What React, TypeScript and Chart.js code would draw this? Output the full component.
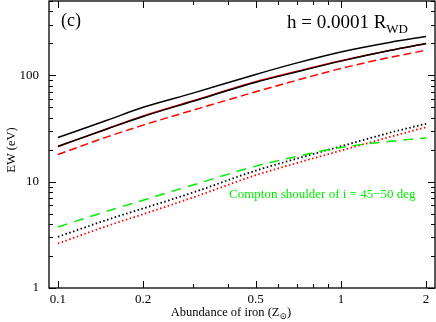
import React, { useEffect, useRef } from 'react';
import { Chart, registerables } from 'chart.js';
Chart.register(...registerables);

const abundance = [0.1, 0.15, 0.2, 0.3, 0.5, 0.7, 1, 1.5, 2];
const totalUpper = [26, 38, 50, 68, 102, 131, 166, 205, 232];
const totalLower = [21.5, 31.5, 41, 57, 86, 108, 136, 172, 199];
const lineRed = [21.3, 31.6, 41.5, 57.6, 87, 109, 137, 172, 199];
const redDashed = [18, 26.5, 34, 47, 70, 90, 116, 148, 172];
const compton = [3.75, 5.3, 6.7, 9.3, 14, 17.3, 21, 24, 25.8];
const blackDotted = [3.03, 4.4, 5.6, 7.9, 12.7, 16.5, 21.5, 29, 35];
const redDotted = [2.62, 3.85, 4.95, 7.1, 11.5, 15, 19.6, 26.5, 32.5];

const xTicks = [0.1, 0.2, 0.3, 0.4, 0.5, 0.6, 0.7, 0.8, 0.9, 1, 2];
const xLabelTicks = [0.1, 0.2, 0.5, 1, 2];
const yTicks = [1, 2, 3, 4, 5, 6, 7, 8, 9, 10, 20, 30, 40, 50, 60, 70, 80, 90, 100, 200, 300, 400, 500];
const yLabelTicks = [1, 10, 100];

const FONT = '"Liberation Serif", "DejaVu Serif", serif';

const pts = (ys: number[]) => abundance.map((x, i) => ({ x, y: ys[i] }));

const decorPlugin = {
  id: 'decor',
  afterDraw(chart: any) {
    const { ctx, chartArea: a, scales } = chart;
    const xs = scales.x;
    const ys = scales.y;
    ctx.save();
    ctx.strokeStyle = '#000';
    ctx.lineWidth = 1.3;
    ctx.strokeRect(a.left, a.top, a.right - a.left, a.bottom - a.top);
    ctx.lineWidth = 1;
    ctx.beginPath();
    xTicks.forEach((v) => {
      const px = Math.round(xs.getPixelForValue(v)) + 0.5;
      const len = xLabelTicks.includes(v) ? 7 : 4;
      ctx.moveTo(px, a.bottom);
      ctx.lineTo(px, a.bottom - len);
      ctx.moveTo(px, a.top);
      ctx.lineTo(px, a.top + len);
    });
    yTicks.forEach((v) => {
      const py = Math.round(ys.getPixelForValue(v)) + 0.5;
      const len = yLabelTicks.includes(v) ? 7 : 4;
      ctx.moveTo(a.left, py);
      ctx.lineTo(a.left + len, py);
      ctx.moveTo(a.right, py);
      ctx.lineTo(a.right - len, py);
    });
    ctx.stroke();

    ctx.fillStyle = '#000';
    ctx.textBaseline = 'alphabetic';
    ctx.textAlign = 'left';
    ctx.font = `18px ${FONT}`;
    ctx.fillText('(c)', 61, 26);

    ctx.font = `19px ${FONT}`;
    const main = 'h = 0.0001 R';
    const mw = ctx.measureText(main).width;
    ctx.font = `13px ${FONT}`;
    const sw = ctx.measureText('WD').width;
    const hx = 408 - mw - sw;
    ctx.font = `19px ${FONT}`;
    ctx.fillText(main, hx, 28);
    ctx.font = `13px ${FONT}`;
    ctx.fillText('WD', hx + mw, 33);

    ctx.fillStyle = '#00ee00';
    ctx.font = `13px ${FONT}`;
    ctx.fillText('Compton shoulder of i = 45\u221250 deg', 229, 198);

    ctx.fillStyle = '#000';
    ctx.font = `12.5px ${FONT}`;
    const t1 = 'Abundance of iron (Z';
    const t1w = ctx.measureText(t1).width;
    ctx.font = `9px ${FONT}`;
    const t2w = ctx.measureText('\u2299').width;
    ctx.font = `12.5px ${FONT}`;
    const t3w = ctx.measureText(')').width;
    const tx = 231 - (t1w + t2w + t3w) / 2;
    ctx.fillText(t1, tx, 316);
    ctx.font = `9px ${FONT}`;
    ctx.fillText('\u2299', tx + t1w, 319);
    ctx.font = `12.5px ${FONT}`;
    ctx.fillText(')', tx + t1w + t2w, 316);

    ctx.translate(15, 150);
    ctx.rotate(-Math.PI / 2);
    ctx.textAlign = 'center';
    ctx.fillText('EW (eV)', 0, 0);
    ctx.restore();
  },
};

export default function App() {
  const ref = useRef<HTMLCanvasElement>(null);
  useEffect(() => {
    const canvas = ref.current!;
    const mk = (label: string, ys: number[], color: string, dash: number[], w = 1.5) => ({
      label,
      data: pts(ys),
      borderColor: color,
      backgroundColor: color,
      borderWidth: w,
      borderDash: dash,
      pointRadius: 0,
      fill: false,
      cubicInterpolationMode: 'monotone' as const,
    });
    const chart = new Chart(canvas, {
      type: 'line',
      data: {
        datasets: [
          mk('total upper', totalUpper, '#000000', []),
          mk('total lower', totalLower, '#000000', []),
          mk('line red', lineRed, '#ff0000', []),
          mk('red dashed', redDashed, '#ff0000', [8, 4]),
          mk('Compton shoulder', compton, '#00ee00', [10, 7]),
          mk('black dotted', blackDotted, '#000000', [1.5, 2.5], 1.8),
          mk('red dotted', redDotted, '#ff0000', [1.5, 2.5], 1.8),
        ],
      },
      options: {
        responsive: false,
        animation: false,
        layout: { autoPadding: false, padding: { top: 1, right: 1, left: 0, bottom: 0 } },
        plugins: { legend: { display: false }, tooltip: { enabled: false } },
        scales: {
          x: {
            type: 'logarithmic',
            min: 0.093,
            max: 2.15,
            grid: { display: false, drawTicks: false },
            border: { display: false },
            afterBuildTicks: (s: any) => {
              s.ticks = xTicks.map((v) => ({ value: v }));
            },
            afterFit: (s: any) => {
              s.height = 34;
              s.paddingLeft = 0;
              s.paddingRight = 0;
            },
            ticks: {
              autoSkip: false,
              maxRotation: 0,
              padding: 4,
              color: '#000',
              font: { family: FONT, size: 13 },
              callback: (v: any) => (xLabelTicks.includes(Number(v)) ? String(Number(v)) : ''),
            },
          },
          y: {
            type: 'logarithmic',
            min: 1,
            max: 500,
            grid: { display: false, drawTicks: false },
            border: { display: false },
            afterBuildTicks: (s: any) => {
              s.ticks = yTicks.map((v) => ({ value: v }));
            },
            afterFit: (s: any) => {
              s.width = 49;
              s.paddingTop = 0;
              s.paddingBottom = 0;
            },
            ticks: {
              autoSkip: false,
              padding: 10,
              color: '#000',
              font: { family: FONT, size: 13 },
              callback: (v: any) => (yLabelTicks.includes(Number(v)) ? String(Number(v)) : ''),
            },
          },
        },
      },
      plugins: [decorPlugin],
    });
    return () => chart.destroy();
  }, []);
  return (
    <div style={{ position: 'absolute', left: 0, top: 0, width: 436, height: 322, background: '#fff' }}>
      <canvas ref={ref} width={436} height={322} style={{ display: 'block' }} />
    </div>
  );
}
